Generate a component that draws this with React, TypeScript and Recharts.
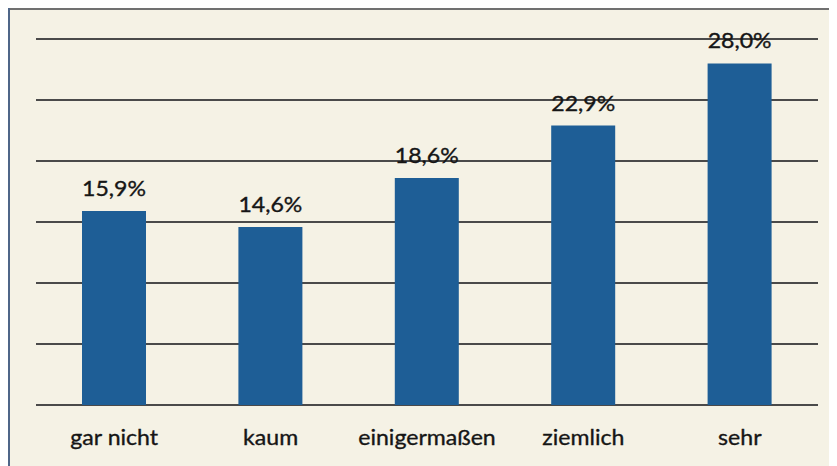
import React from "react";
import { BarChart, Bar, XAxis, YAxis, CartesianGrid, LabelList } from "recharts";

const categories = ["gar nicht", "kaum", "einigermaßen", "ziemlich", "sehr"];
const values = [15.9, 14.6, 18.6, 22.9, 28.0];
const yTicks = [0, 5, 10, 15, 20, 25, 30];

const data = categories.map((c, i) => ({ name: c, value: values[i] }));

const FONT = "Lato, 'Open Sans', sans-serif";

const fmt = (v: number) => v.toFixed(1).replace(".", ",") + "%";

const CatTick = (props: any) => {
  const { x, y, payload } = props;
  return (
    <text
      transform={`translate(${x} ${y + 32}) scale(1.05 1)`}
      textAnchor="middle"
      fill="#161616"
      stroke="#161616"
      strokeWidth={0.35}
      fontSize={22}
      fontFamily={FONT}
    >
      {payload.value}
    </text>
  );
};

const ValueLabel = (props: any) => {
  const { x, y, width, value } = props;
  return (
    <text
      transform={`translate(${Number(x) + Number(width) / 2} ${Number(y) - 15}) scale(1.1 1)`}
      textAnchor="middle"
      fill="#161616"
      stroke="#161616"
      strokeWidth={0.35}
      fontSize={21}
      fontFamily={FONT}
    >
      {fmt(Number(value))}
    </text>
  );
};

export default function App() {
  return (
    <div style={{ position: "relative", width: 829, height: 458, background: "#f5f2e5" }}>
      <div style={{ position: "absolute", left: 0, top: 0, width: 829, height: 2, background: "#707070" }} />
      <div style={{ position: "absolute", left: 0, top: 0, width: 2, height: 458, background: "#4f6688" }} />
      <BarChart
        width={829}
        height={458}
        data={data}
        margin={{ top: 31, right: 19, left: 28, bottom: 21 }}
        barSize={64}
      >
        <CartesianGrid horizontal vertical={false} stroke="#4a4a4a" strokeWidth={2} strokeDasharray="" />
        <YAxis hide domain={[0, 30]} ticks={yTicks} type="number" />
        <XAxis dataKey="name" axisLine={false} tickLine={false} tick={<CatTick />} height={40} interval={0} />
        <Bar dataKey="value" fill="#1e5e96" isAnimationActive={false}>
          <LabelList dataKey="value" content={<ValueLabel />} />
        </Bar>
      </BarChart>
    </div>
  );
}
